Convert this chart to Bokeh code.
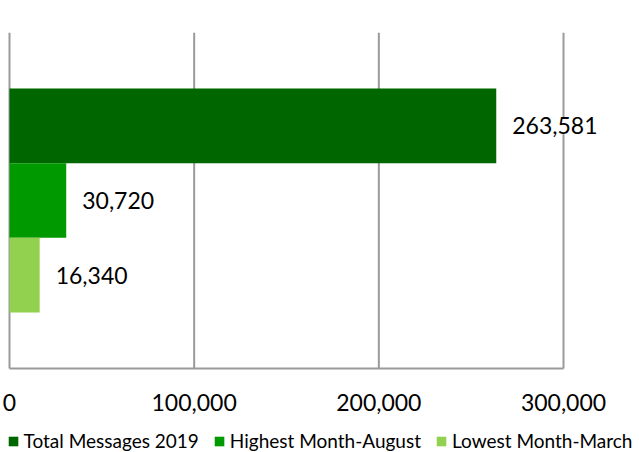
from bokeh.plotting import figure
from bokeh.models import (ColumnDataSource, Range1d, FixedTicker, NumeralTickFormatter,
                          LabelSet, Legend, LegendItem)
from bokeh.core.properties import value
from bokeh.embed import file_html
from bokeh.resources import INLINE

# ---- data ----
series = ["Total Messages 2019", "Highest Month-August", "Lowest Month-March"]
values = [263581, 30720, 16340]
colors = ["#006600", "#009900", "#92D050"]
ticks = [0, 100000, 200000, 300000]

positions = [len(series) - 1 - i for i in range(len(series))]  # first series on top
labels = [f"{v:,}" for v in values]

src = ColumnDataSource(dict(y=positions, v=values, c=colors, name=series, lab=labels))

FONT = "Lato"
W, H, TOP = 639, 452, 32
LEFT_PX, TICK_PX = 9, 184.67          # pixel position of 0 and pixel width of one tick step
UNIT_PX = 74.67                       # pixel height of one bar
AXIS_PX = 368                         # pixel row of the category axis line
PAD = 0.75                            # category padding (in bar heights)

step = ticks[1] - ticks[0]
x_start = -LEFT_PX / TICK_PX * step
x_end = (W - LEFT_PX) / TICK_PX * step
y_top = max(positions) + 0.5 + PAD
y_axis = min(positions) - 0.5 - PAD
y_start = y_axis - (H - AXIS_PX) / UNIT_PX

p = figure(frame_width=W, frame_height=H - TOP, output_backend="svg", toolbar_location=None,
           x_range=Range1d(x_start, x_end), y_range=Range1d(y_start, y_top),
           min_border_left=0, min_border_right=0, min_border_top=TOP, min_border_bottom=0)
p.outline_line_color = None
p.background_fill_color = "white"
p.border_fill_color = "white"
p.xgrid.grid_line_color = None
p.ygrid.grid_line_color = None

# vertical gridlines (only over the plot area)
p.segment(x0=ticks, x1=ticks, y0=[y_axis] * len(ticks), y1=[y_top] * len(ticks),
          line_color="#9a9a9a", line_width=2)

r = p.hbar(y="y", right="v", left=0, height=1.0, fill_color="c", line_color=None, source=src)

# axes
p.yaxis.visible = False
xa = p.xaxis[0]
xa.fixed_location = y_axis
xa.ticker = FixedTicker(ticks=ticks)
xa.bounds = (ticks[0], ticks[-1])
xa.formatter = NumeralTickFormatter(format="0,0")
xa.major_tick_line_color = None
xa.minor_tick_line_color = None
xa.axis_line_color = "#9a9a9a"
xa.axis_line_width = 2
xa.major_label_text_font = FONT
xa.major_label_text_font_size = "23px"
xa.major_label_text_color = "#000000"
xa.major_label_standoff = 19

# data labels
ls = LabelSet(x="v", y="y", text="lab", source=src, x_offset=16,
              text_align="left", text_baseline="middle",
              text_font=value(FONT), text_font_size="23px", text_color="#000000",
              background_fill_color="white")
p.add_layout(ls)

# legend
items = [LegendItem(label=s, renderers=[r], index=i) for i, s in enumerate(series)]
legend = Legend(items=items, orientation="horizontal", location="bottom_center",
                label_text_font=FONT, label_text_font_size="19px", label_text_color="#000000",
                glyph_width=12, glyph_height=12, label_standoff=5, spacing=14,
                padding=0, margin=0, border_line_color=None, background_fill_alpha=0,
                label_height=20)
p.add_layout(legend, "center")

open("out.html", "w").write(file_html(p, INLINE))
